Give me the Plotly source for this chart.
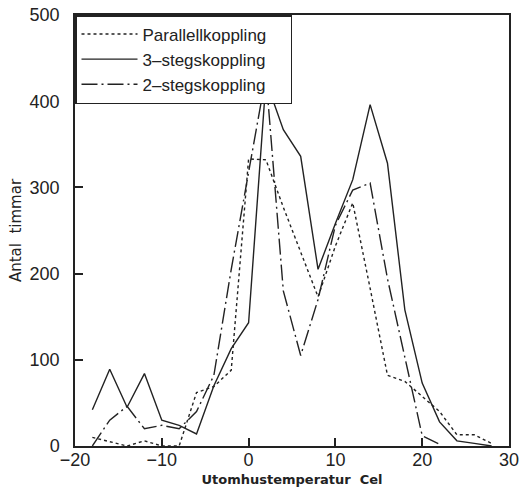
import plotly.graph_objects as go

# Outdoor temperature bins (°C) and hours per bin for each coupling
temps = [-18, -16, -14, -12, -10, -8, -6, -4, -2, 0, 2, 4, 6, 8, 10, 12, 14, 16, 18, 20, 22, 24, 26, 28]
parallell = [10, 5, 0, 6, 0, 0, 62, 69, 88, 333, 332, 277, 226, 173, 232, 282, 183, 82, 75, 58, 40, 13, 13, 3]
steg3 = [42, 89, 45, 84, 30, 24, 14, 70, 113, 143, 424, 367, 336, 205, 258, 309, 396, 328, 158, 73, 28, 6, 3, 0]
temps2 = [-18, -16, -14, -12, -10, -8, -6, -4, -2, 0, 2, 4, 6, 8, 10, 12, 14, 16, 18, 20, 22]
steg2 = [0, 30, 46, 20, 24, 20, 40, 82, 205, 320, 430, 180, 105, 170, 256, 297, 305, 194, 102, 12, 2]

x_ticks = [-20, -10, 0, 10, 20, 30]
x_labels = ["\u221220", "\u221210", "0", "10", "20", "30"]
y_ticks = [0, 100, 200, 300, 400, 500]

FONT = "Liberation Sans, Arial, sans-serif"
TITLE_FONT = "DejaVu Sans, sans-serif"
PAD = "\u00a0" * 4

fig = go.Figure()
fig.add_trace(go.Scatter(x=temps, y=parallell, mode="lines", name="Parallellkoppling" + PAD,
                         legendgroup="a",
                         line=dict(color="#222", width=1.4, dash="dot")))
fig.add_trace(go.Scatter(x=temps, y=steg3, mode="lines", name="3\u2013stegskoppling",
                         legendgroup="b",
                         line=dict(color="#222", width=1.4)))
fig.add_trace(go.Scatter(x=temps2, y=steg2, mode="lines", name="2\u2013stegskoppling",
                         legendgroup="c",
                         line=dict(color="#222", width=1.4, dash="16px,4px,2px,4px")))

fig.update_layout(
    width=520, height=489,
    margin=dict(l=75, r=11, t=15, b=43),
    paper_bgcolor="white", plot_bgcolor="white",
    font=dict(family=FONT, color="#222"),
    showlegend=True,
    legend=dict(x=0, y=1, xanchor="left", yanchor="top",
                bgcolor="white", bordercolor="#222", borderwidth=1.5,
                font=dict(size=17, family=FONT, color="#222"),
                itemwidth=56, tracegroupgap=0),
)
fig.update_xaxes(range=[-20, 30], tickvals=x_ticks, ticktext=x_labels,
                 ticks="inside", ticklen=8, tickwidth=1.5, tickcolor="#222",
                 showline=True, linecolor="#222", linewidth=1.5, mirror=True,
                 showgrid=False, zeroline=False, automargin=False,
                 tickfont=dict(size=18, family=FONT), ticklabelstandoff=-3,
                 title=dict(text="<b>Utomhustemperatur  Cel</b>", standoff=6,
                            font=dict(size=13, family=TITLE_FONT)))
fig.update_yaxes(range=[0, 500], tickvals=y_ticks,
                 ticks="inside", ticklen=8, tickwidth=1.5, tickcolor="#222",
                 showline=True, linecolor="#222", linewidth=1.5, mirror=True,
                 showgrid=False, zeroline=False, automargin=False,
                 tickfont=dict(size=18, family=FONT), ticklabelstandoff=10,
                 title=dict(text="Antal  timmar", standoff=4,
                            font=dict(size=15, family=TITLE_FONT)))

fig.write_html("out.html")
